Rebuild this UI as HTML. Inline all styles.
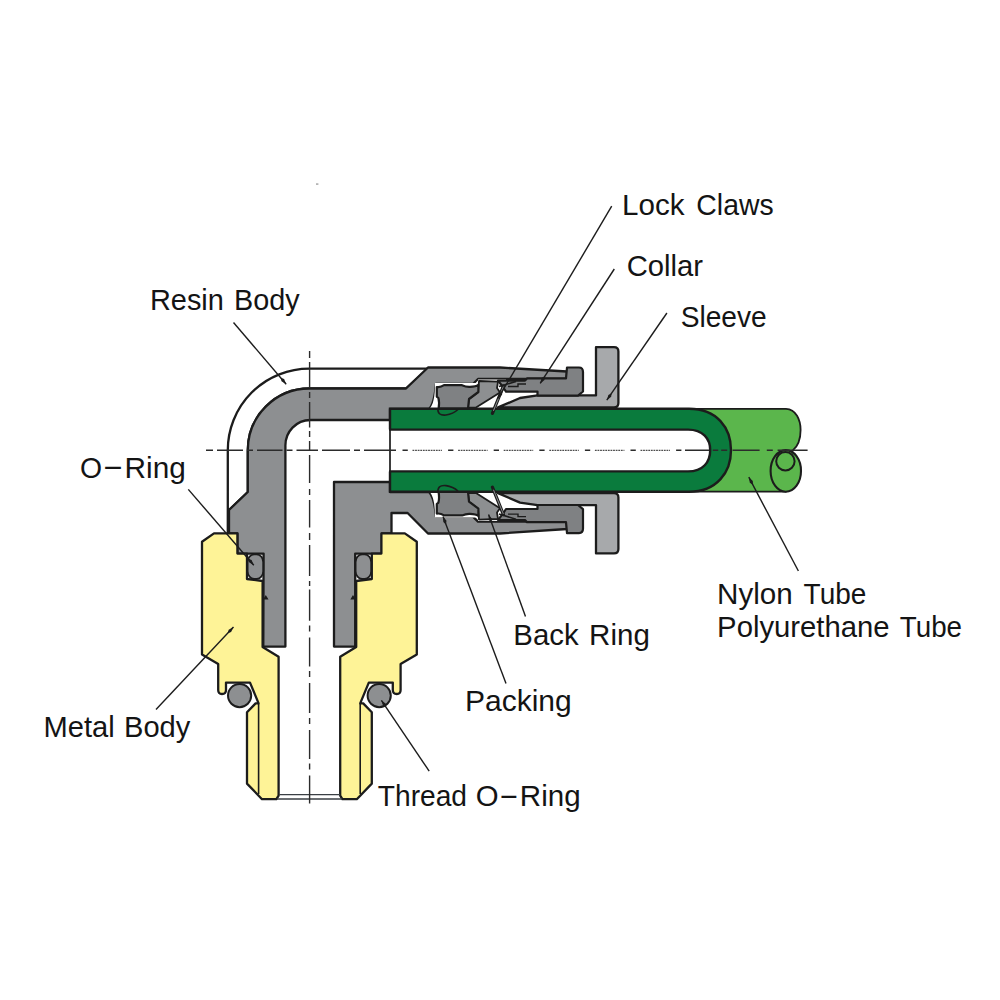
<!DOCTYPE html>
<html lang="en">
<head>
<meta charset="utf-8">
<title>Fitting cross-section</title>
<style>
html,body{margin:0;padding:0;background:#fff;}
body{width:1000px;height:1000px;overflow:hidden;font-family:"Liberation Sans",Arial,sans-serif;}
svg{display:block;}
</style>
</head>
<body>
<svg width="1000" height="1000" viewBox="0 0 1000 1000">
<rect width="1000" height="1000" fill="#ffffff"/>
<path d="M227.8 533.4 V450.3 A81.6 81.6 0 0 1 309.4 368.6 H428 L406 388.5 H309.4 A61.6 61.6 0 0 0 247.8 450.3 V492 L229 510 V533.4" fill="#fff" stroke="#1c1c1c" stroke-width="2.3" stroke-linejoin="round"/>
<path d="M263.3 646.6 H285.4 V446 A25 25.5 0 0 1 310.4 420 H390 V409 H429 C433 405 435 395 436 384 H473 L478 379 H567 V371.5 L500 367.5 H428 L406 388.5 H309.4 A61.6 61.6 0 0 0 247.8 450.3 V492 L229 510 V533.4 H237.4 V553.6 H263.6 Z" fill="#8d8f91" stroke="#1c1c1c" stroke-width="2.3" stroke-linejoin="round"/>
<path d="M334 482 H390 V492 H429 C433 496 435 506 436 516.6 H473 L478 521.6 H567 V529 L500 533.5 H428 L407.6 513 H391.5 V533.4 H382 V553.6 H355.2 V646.6 H334 Z" fill="#8d8f91" stroke="#1c1c1c" stroke-width="2.3" stroke-linejoin="round"/>
<path d="M429.5 408.8 C433 405 435 398 435 383 H478 V379.5 H506 V409 Z" fill="#fff" stroke="none"/><path d="M498 407.4 L520 398 L537.5 395.4 H596 V347.2 H614 Q618.4 347.2 618.4 351.6 V403 Q618.4 407.4 614 407.4 Z" fill="#a7a9ab" stroke="#1c1c1c" stroke-width="2.3" stroke-linejoin="round"/><path d="M498 380.6 H525 L527 378.4 H566 L567 367.5 H579 Q583 367.5 583 372 V391.5 L578 395.6 H537.5 V391.6 H506 L503 387 Z" fill="#7f8183" stroke="#1c1c1c" stroke-width="2.2" stroke-linejoin="round"/><path d="M508 386.5 H518 V384 H526" fill="none" stroke="#1c1c1c" stroke-width="1.4"/><path d="M479 381 L498 381.6 L497 388 L500 392.4 L476 407.6 H468 L469 399 L478 392 Z" fill="#8d8f91" stroke="#1c1c1c" stroke-width="1.8" stroke-linejoin="round"/><path d="M436.8 387 Q440.5 387.6 444 385.2 H462 Q466 387 470 386.8 Q476 386.6 478.4 384.8 V392 L469 399 L468 408.6 H438.6 Q439.6 402 438.4 398 L436.8 396.6 Z" fill="#7f8183" stroke="#1c1c1c" stroke-width="2.2" stroke-linejoin="round"/><path d="M499 386.6 L516 381.4" fill="none" stroke="#1c1c1c" stroke-width="1.6"/>
<g transform="translate(0,900.6) scale(1,-1)"><path d="M429.5 408.8 C433 405 435 398 435 383 H478 V379.5 H506 V409 Z" fill="#fff" stroke="none"/><path d="M498 407.4 L520 398 L537.5 395.4 H596 V347.2 H614 Q618.4 347.2 618.4 351.6 V403 Q618.4 407.4 614 407.4 Z" fill="#a7a9ab" stroke="#1c1c1c" stroke-width="2.3" stroke-linejoin="round"/><path d="M498 380.6 H525 L527 378.4 H566 L567 367.5 H579 Q583 367.5 583 372 V391.5 L578 395.6 H537.5 V391.6 H506 L503 387 Z" fill="#7f8183" stroke="#1c1c1c" stroke-width="2.2" stroke-linejoin="round"/><path d="M508 386.5 H518 V384 H526" fill="none" stroke="#1c1c1c" stroke-width="1.4"/><path d="M479 381 L498 381.6 L497 388 L500 392.4 L476 407.6 H468 L469 399 L478 392 Z" fill="#8d8f91" stroke="#1c1c1c" stroke-width="1.8" stroke-linejoin="round"/><path d="M436.8 387 Q440.5 387.6 444 385.2 H462 Q466 387 470 386.8 Q476 386.6 478.4 384.8 V392 L469 399 L468 408.6 H438.6 Q439.6 402 438.4 398 L436.8 396.6 Z" fill="#7f8183" stroke="#1c1c1c" stroke-width="2.2" stroke-linejoin="round"/><path d="M499 386.6 L516 381.4" fill="none" stroke="#1c1c1c" stroke-width="1.6"/></g>
<path d="M690 408.8 H786 C796 409 800.6 420 800.6 430 C800.6 440 797 447 792.6 450.6 L786 491.7 H690 Z" fill="#5bb64c" stroke="#1c1c1c" stroke-width="1.8" stroke-linejoin="round"/>
<ellipse cx="785.8" cy="470.9" rx="15.2" ry="20.8" fill="#5bb64c" stroke="#1c1c1c" stroke-width="2.1"/>
<circle cx="785.4" cy="461.2" r="9.2" fill="#5bb64c" stroke="#1c1c1c" stroke-width="2"/>
<path d="M390 408.8 H689 C717 408.8 731 428 731 450.2 C731 472 717 491.8 689 491.8 H390 Z" fill="#0a7b3d" stroke="#1c1c1c" stroke-width="2.4" stroke-linejoin="miter"/>
<path d="M388 429.6 H688 C703 429.6 710.2 439 710.2 450.2 C710.2 462 703 471.4 688 471.4 H388 Z" fill="#fff" stroke="none"/>
<path d="M389 429.6 H688 C703 429.6 710.2 439 710.2 450.2 C710.2 462 703 471.4 688 471.4 H389" fill="none" stroke="#1c1c1c" stroke-width="2.4" stroke-linejoin="miter"/>
<path d="M390 408.8 V491.8" fill="none" stroke="#1c1c1c" stroke-width="1.7" stroke-linecap="square"/>
<path d="M438 408 Q437 416 446 415 Q453 414 458 409.5" fill="none" stroke="#1c1c1c" stroke-width="1.6"/><path d="M503.4 386 L492.4 413.4" fill="none" stroke="#1c1c1c" stroke-width="3.2" stroke-linecap="round"/><path d="M503.2 387 L493.6 410.5" fill="none" stroke="#8a8c8e" stroke-width="1" stroke-linecap="round"/>
<g transform="translate(0,900.6) scale(1,-1)"><path d="M438 408 Q437 416 446 415 Q453 414 458 409.5" fill="none" stroke="#1c1c1c" stroke-width="1.6"/><path d="M503.4 386 L492.4 413.4" fill="none" stroke="#1c1c1c" stroke-width="3.2" stroke-linecap="round"/><path d="M503.2 387 L493.6 410.5" fill="none" stroke="#8a8c8e" stroke-width="1" stroke-linecap="round"/></g>
<path d="M214 533.4 H237.4 V553.6 H247 V579 L262.6 581 V647 L278.6 656.8 V795.6 L276.4 799.2 H262 L247 783.6 V712.2 L255.6 703.4 H258.6 L250 682.6 H226 V690 Q226 694 222 694 Q218.2 694 218.2 690 V664 L202 654.4 V541.8 Z" fill="#fef397" stroke="#1c1c1c" stroke-width="2.3" stroke-linejoin="round"/><path d="M258.6 704 V794" fill="none" stroke="#1c1c1c" stroke-width="1.6"/><circle cx="239.6" cy="695.6" r="11.6" fill="#8d8f91" stroke="#1c1c1c" stroke-width="2"/><rect x="247.6" y="554.4" width="15.6" height="24.4" rx="6.5" ry="7.5" fill="#8d8f91" stroke="#1c1c1c" stroke-width="1.8"/><path d="M263 599.5 H268.5 L265.8 595 Z" fill="#1c1c1c"/>
<g transform="translate(618.8,0) scale(-1,1)"><path d="M214 533.4 H237.4 V553.6 H247 V579 L262.6 581 V647 L278.6 656.8 V795.6 L276.4 799.2 H262 L247 783.6 V712.2 L255.6 703.4 H258.6 L250 682.6 H226 V690 Q226 694 222 694 Q218.2 694 218.2 690 V664 L202 654.4 V541.8 Z" fill="#fef397" stroke="#1c1c1c" stroke-width="2.3" stroke-linejoin="round"/><path d="M258.6 704 V794" fill="none" stroke="#1c1c1c" stroke-width="1.6"/><circle cx="239.6" cy="695.6" r="11.6" fill="#8d8f91" stroke="#1c1c1c" stroke-width="2"/><rect x="247.6" y="554.4" width="15.6" height="24.4" rx="6.5" ry="7.5" fill="#8d8f91" stroke="#1c1c1c" stroke-width="1.8"/><path d="M263 599.5 H268.5 L265.8 595 Z" fill="#1c1c1c"/></g>
<path d="M279 794.6 H340 M277 799 H342" fill="none" stroke="#3a3f44" stroke-width="1.4"/>
<path d="M206 450.3H213 M217 450.3H243 M247 450.3H253 M257 450.3H282.5 M286.5 450.3H292.5 M296.5 450.3H318 M322 450.3H350 M354 450.3H360 M364 450.3H396 M402.5 450.3H407.8 M448.1 450.3H453.40000000000003 M493.7 450.3H499.0 M539.3 450.3H544.6 M584.9 450.3H590.2 M630.5 450.3H635.8 M676.1 450.3H681.4000000000001 M685 450.3H709 M712.8 450.3H718.2 M721.2 450.3H727.2 M732.6 450.3H759.6 M766.8 450.3H772.8 M777.6 450.3H807.6" fill="none" stroke="#2b2b2b" stroke-width="1.4"/>
<path d="M412.5 450.3H442.0 M458.1 450.3H487.6 M503.7 450.3H533.2 M549.3 450.3H578.8 M594.9 450.3H624.4 M640.5 450.3H670" fill="none" stroke="#3a3a3a" stroke-width="1.2" stroke-dasharray="1.8 0.8" opacity="0.9"/>
<path d="M309.6 351V358 M309.6 362V388 M309.6 392V398 M309.6 402V427.5 M309.6 431V437 M309.6 441V451 M309.6 455V483 M309.6 489V495 M309.6 500V527.5 M309.6 533V540 M309.6 545V576 M309.6 581V586 M309.6 589.6V620.8 M309.6 625.6V631.6 M309.6 637.6V666.4 M309.6 671V677 M309.6 683V713 M309.6 718V724 M309.6 730V759 M309.6 763.6V769.6 M309.6 775.6V803.5" fill="none" stroke="#2b2b2b" stroke-width="1.4"/>
<rect x="316" y="183.2" width="2.4" height="1.8" fill="#b5b5b5"/>
<line x1="233.5" y1="322.5" x2="286.2" y2="384.2" stroke="#1c1c1c" stroke-width="1.4"/><path d="M286.2 384.2 L284.1 379.1 L280.7 377.7 L281.5 381.3 Z" fill="#1c1c1c"/>
<line x1="188.3" y1="489.4" x2="253.8" y2="565.2" stroke="#1c1c1c" stroke-width="1.4"/><path d="M253.8 565.2 L251.6 560.1 L248.2 558.8 L249.1 562.3 Z" fill="#1c1c1c"/>
<line x1="156" y1="709.5" x2="233.5" y2="627" stroke="#1c1c1c" stroke-width="1.4"/><path d="M233.5 627.0 L228.7 629.7 L227.7 633.2 L231.1 632.0 Z" fill="#1c1c1c"/>
<line x1="611.7" y1="206.2" x2="498" y2="398.5" stroke="#1c1c1c" stroke-width="1.4"/><path d="M498.0 398.5 L502.1 394.8 L502.3 391.2 L499.2 393.1 Z" fill="#1c1c1c"/>
<line x1="614.3" y1="269" x2="540.2" y2="383.4" stroke="#1c1c1c" stroke-width="1.4"/><path d="M540.2 383.4 L544.5 379.9 L544.8 376.3 L541.6 378.1 Z" fill="#1c1c1c"/>
<line x1="666.9" y1="313" x2="606.8" y2="400.2" stroke="#1c1c1c" stroke-width="1.4"/><path d="M606.8 400.2 L611.2 396.8 L611.6 393.2 L608.4 394.9 Z" fill="#1c1c1c"/>
<line x1="525.5" y1="616.5" x2="488.6" y2="514.6" stroke="#1c1c1c" stroke-width="1.4"/><path d="M488.6 514.6 L488.8 520.1 L491.5 522.6 L492.0 519.0 Z" fill="#1c1c1c"/>
<line x1="506" y1="683.4" x2="443" y2="516.4" stroke="#1c1c1c" stroke-width="1.4"/><path d="M443.0 516.4 L443.3 521.9 L446.0 524.4 L446.5 520.7 Z" fill="#1c1c1c"/>
<line x1="429.2" y1="771.2" x2="381.4" y2="700.3" stroke="#1c1c1c" stroke-width="1.4"/><path d="M381.4 700.3 L382.9 705.6 L386.2 707.3 L385.8 703.7 Z" fill="#1c1c1c"/>
<line x1="798.4" y1="571" x2="748.8" y2="477.2" stroke="#1c1c1c" stroke-width="1.4"/><path d="M748.8 477.2 L749.8 482.7 L752.8 484.7 L752.8 481.1 Z" fill="#1c1c1c"/>
<g font-family="'Liberation Sans', Arial, sans-serif" font-size="29.5" fill="#141414"><text><tspan x="149.94" y="309.60" textLength="73.94" lengthAdjust="spacingAndGlyphs">Resin</tspan> <tspan x="234.05" y="309.60" textLength="65.61" lengthAdjust="spacingAndGlyphs">Body</tspan></text>
<text><tspan x="80.04" y="477.60" textLength="22.07" lengthAdjust="spacingAndGlyphs">O</tspan><tspan x="102.31" y="475.90" textLength="21.49" lengthAdjust="spacingAndGlyphs">-</tspan><tspan x="124.58" y="477.60" textLength="61.24" lengthAdjust="spacingAndGlyphs">Ring</tspan></text>
<text><tspan x="43.53" y="737.20" textLength="71.21" lengthAdjust="spacingAndGlyphs">Metal</tspan> <tspan x="124.03" y="737.20" textLength="66.33" lengthAdjust="spacingAndGlyphs">Body</tspan></text>
<text><tspan x="622.00" y="214.80" textLength="62.45" lengthAdjust="spacingAndGlyphs">Lock</tspan> <tspan x="696.34" y="214.80" textLength="77.28" lengthAdjust="spacingAndGlyphs">Claws</tspan></text>
<text><tspan x="626.71" y="275.70" textLength="76.32" lengthAdjust="spacingAndGlyphs">Collar</tspan></text>
<text><tspan x="680.65" y="326.70" textLength="86.04" lengthAdjust="spacingAndGlyphs">Sleeve</tspan></text>
<text><tspan x="513.31" y="644.90" textLength="65.34" lengthAdjust="spacingAndGlyphs">Back</tspan> <tspan x="589.10" y="644.90" textLength="60.71" lengthAdjust="spacingAndGlyphs">Ring</tspan></text>
<text><tspan x="464.97" y="711.20" textLength="106.77" lengthAdjust="spacingAndGlyphs">Packing</tspan></text>
<text><tspan x="377.80" y="806.30" textLength="89.24" lengthAdjust="spacingAndGlyphs">Thread</tspan> <tspan x="475.70" y="806.30" textLength="22.84" lengthAdjust="spacingAndGlyphs">O</tspan><tspan x="498.84" y="804.60" textLength="20.26" lengthAdjust="spacingAndGlyphs">-</tspan><tspan x="519.80" y="806.30" textLength="60.81" lengthAdjust="spacingAndGlyphs">Ring</tspan></text>
<text><tspan x="717.09" y="604.10" textLength="75.72" lengthAdjust="spacingAndGlyphs">Nylon</tspan> <tspan x="803.60" y="604.10" textLength="62.79" lengthAdjust="spacingAndGlyphs">Tube</tspan></text>
<text><tspan x="717.12" y="636.60" textLength="172.49" lengthAdjust="spacingAndGlyphs">Polyurethane</tspan> <tspan x="899.80" y="636.60" textLength="62.28" lengthAdjust="spacingAndGlyphs">Tube</tspan></text></g>
</svg>
</body>
</html>
